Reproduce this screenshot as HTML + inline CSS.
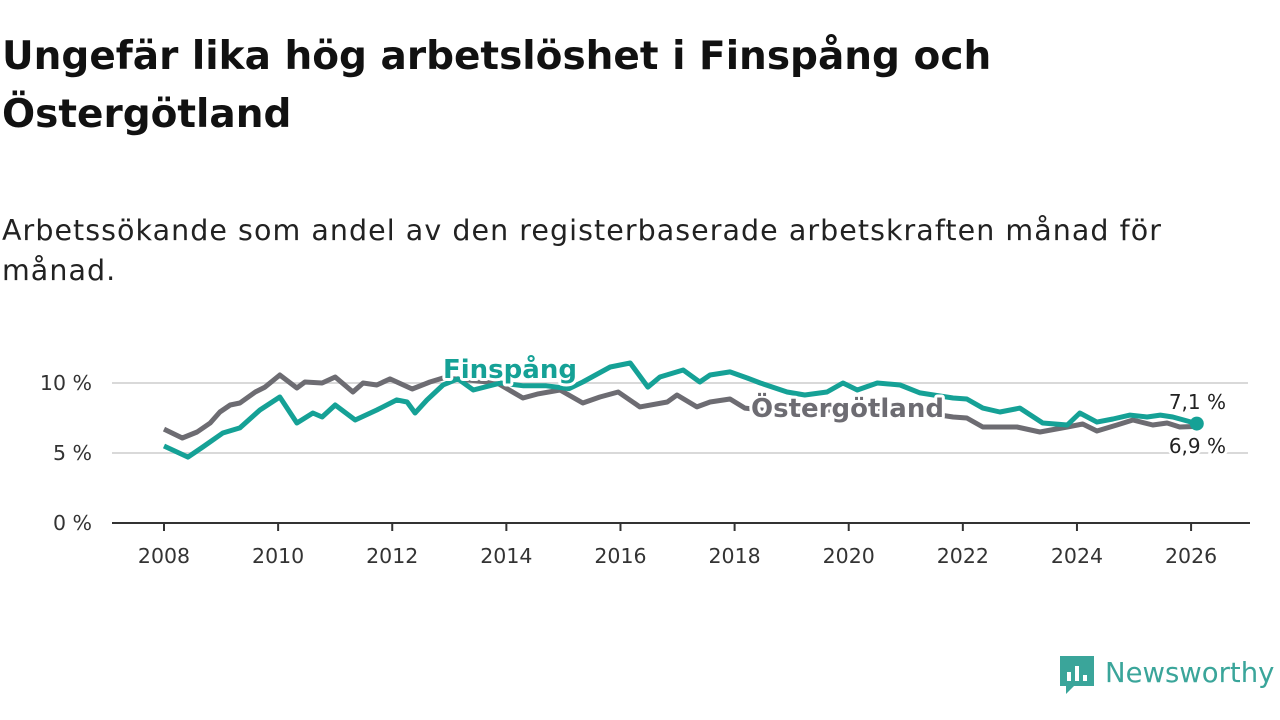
<!DOCTYPE html>
<html><head><meta charset="utf-8">
<style>
body{margin:0;width:1280px;height:720px;background:#fff;overflow:hidden;font-family:"DejaVu Sans","Liberation Sans",sans-serif;}
h1{position:absolute;left:2px;top:28px;margin:0;font-size:39px;line-height:58px;font-weight:bold;color:#111;white-space:nowrap;}
p.sub{position:absolute;left:2px;top:211px;margin:0;font-size:28.5px;line-height:40px;color:#222;width:1270px;letter-spacing:1.05px;white-space:nowrap;}
svg{position:absolute;left:0;top:0;font-family:"DejaVu Sans","Liberation Sans",sans-serif;}
</style></head><body>
<h1>Ungefär lika hög arbetslöshet i Finspång och<br>Östergötland</h1>
<p class="sub">Arbetssökande som andel av den registerbaserade arbetskraften månad för<br>månad.</p>
<svg id="chart" width="1280" height="720"></svg>
<script>
const finDates=[2008.0,2008.42,2008.68,2009.03,2009.33,2009.68,2010.03,2010.33,2010.61,2010.77,2011.0,2011.35,2011.73,2012.08,2012.26,2012.4,2012.61,2012.89,2013.15,2013.42,2013.9,2014.3,2014.7,2015.1,2015.34,2015.82,2016.17,2016.48,2016.69,2017.1,2017.39,2017.57,2017.92,2018.22,2018.45,2018.92,2019.23,2019.62,2019.9,2020.15,2020.5,2020.9,2021.25,2021.6,2021.83,2022.07,2022.35,2022.65,2023.0,2023.4,2023.83,2024.05,2024.35,2024.63,2024.93,2025.23,2025.46,2025.68,2026.1];
const finValues=[5.5,4.71,5.43,6.43,6.79,8.07,9.0,7.14,7.86,7.57,8.43,7.36,8.07,8.79,8.64,7.86,8.79,9.86,10.3,9.5,10.0,9.8,9.8,9.6,10.07,11.14,11.43,9.71,10.43,10.93,10.07,10.57,10.79,10.36,10.0,9.36,9.14,9.36,10.0,9.5,10.0,9.86,9.29,9.07,8.93,8.86,8.21,7.93,8.21,7.14,7.0,7.86,7.21,7.43,7.71,7.57,7.71,7.57,7.1];
const ostDates=[2008.0,2008.32,2008.58,2008.81,2008.98,2009.16,2009.33,2009.6,2009.77,2010.03,2010.33,2010.47,2010.77,2011.0,2011.31,2011.49,2011.73,2011.96,2012.35,2012.66,2012.89,2013.36,2013.84,2014.29,2014.54,2014.94,2015.34,2015.64,2015.96,2016.34,2016.82,2016.99,2017.34,2017.57,2017.92,2018.18,2018.8,2019.67,2020.55,2021.25,2021.83,2022.07,2022.35,2022.95,2023.35,2023.83,2024.1,2024.35,2024.7,2024.98,2025.33,2025.58,2025.8,2026.1];
const ostValues=[6.71,6.07,6.5,7.14,7.93,8.43,8.57,9.36,9.71,10.57,9.64,10.07,10.0,10.43,9.36,10.0,9.86,10.29,9.57,10.07,10.36,10.21,10.0,8.93,9.21,9.5,8.57,9.0,9.36,8.29,8.64,9.14,8.29,8.64,8.86,8.21,7.93,8.07,8.21,7.93,7.57,7.5,6.86,6.86,6.5,6.86,7.07,6.57,7.0,7.36,7.0,7.14,6.86,6.9];
const yTicks=[0,5,10];
const yTickLabels=["0 %","5 %","10 %"];
const xTicks=[2008,2010,2012,2014,2016,2018,2020,2022,2024,2026];

const NS="http://www.w3.org/2000/svg";
const svg=document.getElementById('chart');
const X=y=>164+(y-2008)*57.06;
const Y=v=>523-v*14;
function mk(t,a,parent){const e=document.createElementNS(NS,t);for(const k in a)e.setAttribute(k,a[k]);(parent||svg).appendChild(e);return e;}

yTicks.forEach((t,i)=>{
  if(t>0){const g=mk('line',{x1:112,x2:1248,y1:Y(t),y2:Y(t),stroke:'#d9d9d9','stroke-width':2});
  
  }
  const l=mk('text',{x:92,y:Y(t)+7,'text-anchor':'end','font-size':20.5,fill:'#333'});
  l.textContent=yTickLabels[i];
  
  
});
const base=mk('line',{x1:112,x2:1250,y1:523,y2:523,stroke:'#333','stroke-width':2});


xTicks.forEach(t=>{
  const tk=mk('line',{x1:X(t),x2:X(t),y1:523,y2:531,stroke:'#333','stroke-width':2});
  
  
  const l=mk('text',{x:X(t),y:563,'text-anchor':'middle','font-size':20.5,fill:'#333'});
  l.textContent=t;
  
  
});
function path(d,v){return d.map((x,i)=>(i?'L':'M')+X(x).toFixed(1)+','+Y(v[i]).toFixed(1)).join('');}
const ost=mk('path',{d:path(ostDates,ostValues),fill:'none',stroke:'#6d6c72','stroke-width':5,'stroke-linejoin':'round'});


const fin=mk('path',{d:path(finDates,finValues),fill:'none',stroke:'#15a196','stroke-width':5,'stroke-linejoin':'round'});


const dot=mk('circle',{cx:X(finDates[finDates.length-1]),cy:Y(finValues[finValues.length-1]),r:7,fill:'#15a196'});



function label(txt,x,y,color,size,weight,name,anchor){
  const t=mk('text',{x:x,y:y,'font-size':size,'font-weight':weight,fill:color,stroke:'#fff','stroke-width':6,'paint-order':'stroke','stroke-linejoin':'round','text-anchor':anchor||'start'});
  t.textContent=txt;
  
  
}
label('Finspång',443,378,'#15a196',26,'bold','label-finspang');
label('Östergötland',751,417,'#6d6c72',26,'bold','label-ostergotland');
label('7,1 %',1226,409,'#222',20,'normal','end-value-finspang','end');
label('6,9 %',1226,453,'#222',20,'normal','end-value-ostergotland','end');

// logo
const lg=mk('g',{});


mk('path',{d:'M1060,656 h34 v30 h-20 l-8,8 v-8 h-6 z',fill:'#3aa59a'},lg);
mk('rect',{x:1067,y:672,width:4,height:9,fill:'#fff'},lg);
mk('rect',{x:1075,y:666,width:4,height:15,fill:'#fff'},lg);
mk('rect',{x:1083,y:675,width:4,height:6,fill:'#fff'},lg);
const lt=mk('text',{x:1105,y:682,'font-size':27.5,fill:'#3aa59a'},lg);
lt.textContent='Newsworthy';


</script>
</body></html>
